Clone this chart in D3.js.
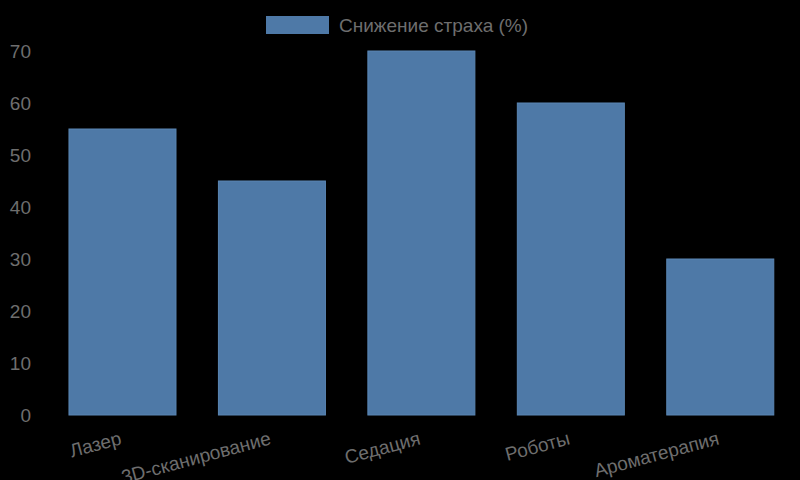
<!DOCTYPE html>
<html><head><meta charset="utf-8">
<script src="https://cdn.jsdelivr.net/npm/d3@7"></script>
<style>body{margin:0;background:#000}</style></head>
<body><svg id="c" width="800" height="480"></svg>
<script>
const categories = ["Лазер","3D-сканирование","Седация","Роботы","Ароматерапия"];
const values = [55,45,70,60,30];
const yTicks = [0,10,20,30,40,50,60,70];
const seriesName = "Снижение страха (%)";

const svg = d3.select("#c");
svg.append("rect").attr("width",800).attr("height",480).attr("fill","#000");
const x = d3.scaleBand().domain(categories).range([47.75,795]).paddingInner(0.284).paddingOuter(0.142);
const y = d3.scaleLinear().domain([0,70]).range([415,51]);
const font = "Liberation Sans, Arial, sans-serif";

svg.selectAll(".bar").data(values).join("rect")
  .attr("x",(d,i)=>x(categories[i])).attr("width",x.bandwidth())
  .attr("y",d=>y(d)).attr("height",d=>y(0)-y(d))
  .attr("fill","#4e79a7").attr("stroke","#5a86b3").attr("stroke-width",1);

const ya = svg.append("g").attr("transform","translate(33,0)")
  .call(d3.axisLeft(y).tickValues(yTicks).tickSize(0).tickPadding(2));
ya.select(".domain").remove();
ya.selectAll("text").attr("fill","#6e6e6e").style("font-family",font).style("font-size","19px").attr("dy","0.35em");

const xa = svg.append("g").attr("transform","translate(0,415)")
  .call(d3.axisBottom(x).tickSize(0));
xa.select(".domain").remove();
xa.selectAll("text").attr("fill","#6e6e6e").style("font-family",font).style("font-size","19px")
  .attr("text-anchor","end").attr("dy",0).attr("y",0).attr("transform","translate(0,29) rotate(-15)");

const lg = svg.append("g");
lg.append("rect").attr("x",266).attr("y",16).attr("width",63).attr("height",18).attr("fill","#4e79a7");
lg.append("text").attr("x",339).attr("y",32).text(seriesName)
  .attr("fill","#6e6e6e").style("font-family",font).style("font-size","19px");
</script></body></html>
